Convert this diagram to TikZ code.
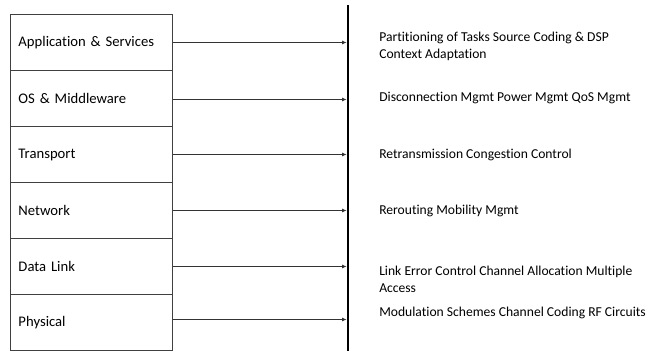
\documentclass[tikz,border=0pt]{standalone}
\usepackage{fontspec}
\setmainfont{Carlito}[Ligatures=NoCommon]
\usetikzlibrary{arrows.meta}
\begin{document}
\begin{tikzpicture}[x=0.75pt,y=-0.75pt,
  layer/.style={draw=black!75,line width=0.75pt,rectangle,minimum width=121.5pt,minimum height=42pt,
    text width=109.5pt,inner xsep=6pt,inner ysep=0pt,align=left,font=\fontsize{11}{13.4}\selectfont,anchor=north west},
  func/.style={anchor=west,align=left,inner sep=0pt,font=\fontsize{10.2}{12.6}\selectfont},
  arr/.style={draw=black!80,line width=0.6pt,-{Latex[length=3.5pt,width=3pt]}}]
\useasboundingbox (0,0) rectangle (649,350);
\node[layer] (r1) at (10,14) {Application \& Services};
\node[layer] (r2) at (10,70) {OS \& Middleware};
\node[layer] (r3) at (10,126) {Transport};
\node[layer] (r4) at (10,182) {Network};
\node[layer] (r5) at (10,238) {Data Link};
\node[layer] (r6) at (10,294) {Physical};
\coordinate (vtop) at (348,5);
\coordinate (vbot) at (348,352);
\draw[line width=1.2pt] (vtop) -- (vbot);
\foreach \i/\s in {1/0,2/-1,3/0,4/0,5/0,6/3}{
  \draw[arr] ([yshift=\s*0.75pt]r\i.east) -- ([xshift=-1pt,yshift=\s*0.75pt]r\i.east -| vtop);
}
\node[func] (l1) at (379,46) {Partitioning of Tasks Source Coding \& DSP\\Context Adaptation};
\node[func] (l2) at (379,98) {Disconnection Mgmt Power Mgmt QoS Mgmt};
\node[func] (l3) at (379,155) {Retransmission Congestion Control};
\node[func] (l4) at (379,211) {Rerouting Mobility Mgmt};
\node[func] (l5) at (379,279) {Link Error Control Channel Allocation Multiple\\Access};
\node[func] (l6) at (379,313) {Modulation Schemes Channel Coding RF Circuits};
\end{tikzpicture}
\end{document}
